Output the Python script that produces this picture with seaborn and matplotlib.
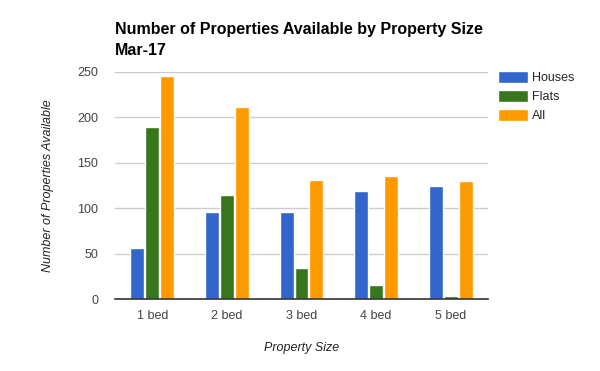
import pandas as pd
import matplotlib
matplotlib.use('Agg')
import matplotlib.pyplot as plt
import seaborn as sns

sizes = ['1 bed', '2 bed', '3 bed', '4 bed', '5 bed']
houses = [56, 96, 96, 119, 125]
flats = [189, 114, 34, 15, 3]
all_props = [246, 211, 131, 135, 130]

df = pd.DataFrame({'Property Size': sizes * 3,
                   'Count': houses + flats + all_props,
                   'Type': ['Houses'] * 5 + ['Flats'] * 5 + ['All'] * 5})

sns.set_style('white')
plt.rcParams['font.family'] = ['Liberation Sans', 'DejaVu Sans']

fig = plt.figure(figsize=(6, 3.71), dpi=100)
ax = fig.add_axes([115/600, 1-299/371, 373/600, 227/371])

palette = {'Houses': '#3366CC', 'Flats': '#38761D', 'All': '#FF9900'}
sns.barplot(data=df, x='Property Size', y='Count', hue='Type', palette=palette,
            width=0.6, gap=0.07, saturation=1, ax=ax, legend=True)

ax.set_ylim(0, 250)
ax.set_yticks([0, 50, 100, 150, 200, 250])
ax.yaxis.grid(True, color='#cccccc', linewidth=1)
ax.set_axisbelow(True)
for s in ['top', 'right', 'left']:
    ax.spines[s].set_visible(False)
ax.spines['bottom'].set_color('#333333')
ax.spines['bottom'].set_linewidth(1.2)
ax.tick_params(axis='both', length=0, labelsize=9, colors='#444444')
ax.tick_params(axis='y', pad=12)
ax.tick_params(axis='x', pad=8)

ax.set_xlabel('Property Size', style='italic', fontsize=9, color='#222222', labelpad=14)
ax.set_ylabel('Number of Properties Available', style='italic', fontsize=9,
              color='#222222', labelpad=17)

fig.text(115/600, 1-22/371, 'Number of Properties Available by Property Size\nMar-17',
         fontsize=11.5, fontweight='bold', va='top', ha='left', linespacing=1.5,
         color='black')

handles, labels = ax.get_legend_handles_labels()
ax.legend(handles, labels, loc='upper left', bbox_to_anchor=(493/600, 1-66/371),
          bbox_transform=fig.transFigure, frameon=False, borderaxespad=0,
          fontsize=9, handlelength=2.4, handleheight=1.1, handletextpad=0.3,
          labelspacing=0.45)

plt.savefig('out.png', dpi=100)
